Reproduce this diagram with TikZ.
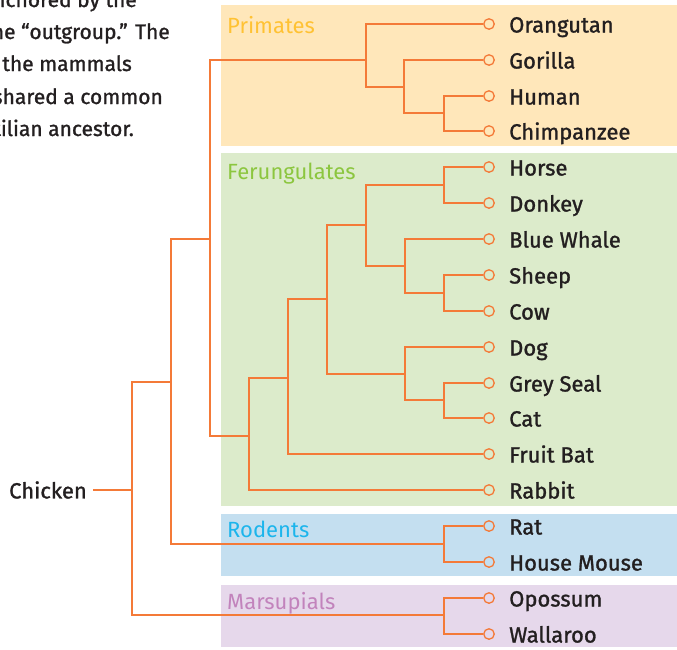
\documentclass[tikz,border=0pt]{standalone}
\usepackage{fontspec}
\setmainfont{Fira Sans}
\newfontfamily\medfont{Fira Sans}[FakeBold=1.2]
\definecolor{branchcol}{HTML}{F47A38}
\definecolor{inkcol}{HTML}{231F20}
\definecolor{prifill}{HTML}{FFE7BA}
\definecolor{pricol}{HTML}{FFC233}
\definecolor{ferfill}{HTML}{DCEBCB}
\definecolor{fercol}{HTML}{8CC63F}
\definecolor{rodfill}{HTML}{C4DFF0}
\definecolor{rodcol}{HTML}{1CB5EC}
\definecolor{marfill}{HTML}{E6D8EB}
\definecolor{marcol}{HTML}{C283BC}
\tikzset{
  branch/.style={draw=branchcol, line width=1.5pt},
  leaf/.style={circle, draw=branchcol, line width=1.3pt, minimum size=10.5pt, inner sep=0pt},
  lbl/.style={anchor=base west, inner sep=0pt, text=inkcol, font=\medfont\fontsize{22}{26}\selectfont},
  grouptitle/.style={anchor=base west, inner sep=0pt, font=\fontsize{22}{26}\selectfont},
  para/.style={anchor=base east, inner sep=0pt, text=inkcol, font=\medfont\fontsize{21}{25}\selectfont}
}
\begin{document}
\begin{tikzpicture}[x=1pt,y=-1pt]
\clip (0,0) rectangle (677,649);
% group boxes
\fill[prifill] (221,5) rectangle (677,146);
\fill[ferfill] (221,153) rectangle (677,506);
\fill[rodfill] (221,514) rectangle (677,576);
\fill[marfill] (221,585) rectangle (677,647);
\node[grouptitle, text=pricol] (tpri) at (227,33) {Primates};
\node[grouptitle, text=fercol] (tfer) at (227,179) {Ferungulates};
\node[grouptitle, text=rodcol] (trod) at (227,537) {Rodents};
\node[grouptitle, text=marcol] (tmar) at (227,609) {Marsupials};
% paragraph (cut by the left edge, as in the reference)
\node[para] (p1) at (137,7) {is anchored by the};
\node[para] (p2) at (170,39) {the one “outgroup.” The};
\node[para] (p3) at (132,71) {that the mammals};
\node[para] (p4) at (163,104) {all shared a common};
\node[para] (p5) at (134,136) {a reptilian ancestor.};
% leaves
\foreach \n/\y/\t in {orangutan/24/Orangutan, gorilla/60/Gorilla, human/96/Human,
  chimp/131/Chimpanzee, horse/167/Horse, donkey/203/Donkey, whale/239/Blue Whale,
  sheep/275/Sheep, cow/311/Cow, dog/347/Dog, seal/383/Grey Seal, cat/418/Cat,
  bat/454/Fruit Bat, rabbit/490/Rabbit, rat/526/Rat, mouse/562/House Mouse,
  opossum/598/Opossum, wallaroo/634/Wallaroo}{
  \node[leaf] (\n) at (489,\y) {};
  \node[lbl] (\n-t) at (509,\y+8.5) {\t};
}
\node[anchor=east, inner xsep=6pt, inner ysep=0pt, text=inkcol, font=\medfont\fontsize{22}{26}\selectfont] (chicken) at (93,490) {Chicken};
% internal nodes
\coordinate (R) at (132,490);
\coordinate (A) at (171,382);
\coordinate (B) at (210,239);
\coordinate (P) at (366,60);
\coordinate (P2) at (404,87);
\coordinate (P3) at (444,113);
\coordinate (C) at (249,436);
\coordinate (D) at (288,378);
\coordinate (E) at (327,299);
\coordinate (F) at (366,225);
\coordinate (H) at (444,185);
\coordinate (I) at (405,266);
\coordinate (J) at (444,293);
\coordinate (G) at (405,374);
\coordinate (K) at (444,400);
\coordinate (Ro) at (444,544);
\coordinate (M) at (444,615);
% branches
\draw[branch] (chicken.east) -- (R);
\foreach \p/\c in {R/A, R/M, A/B, A/Ro, B/P, B/C, P/orangutan, P/P2, P2/gorilla, P2/P3,
  P3/human, P3/chimp, C/D, C/rabbit, D/E, D/bat, E/F, E/G, F/H, F/I, H/horse, H/donkey,
  I/whale, I/J, J/sheep, J/cow, G/dog, G/K, K/seal, K/cat, Ro/rat, Ro/mouse,
  M/opossum, M/wallaroo}{
  \draw[branch] (\p) |- (\c);
}
\end{tikzpicture}
\end{document}
